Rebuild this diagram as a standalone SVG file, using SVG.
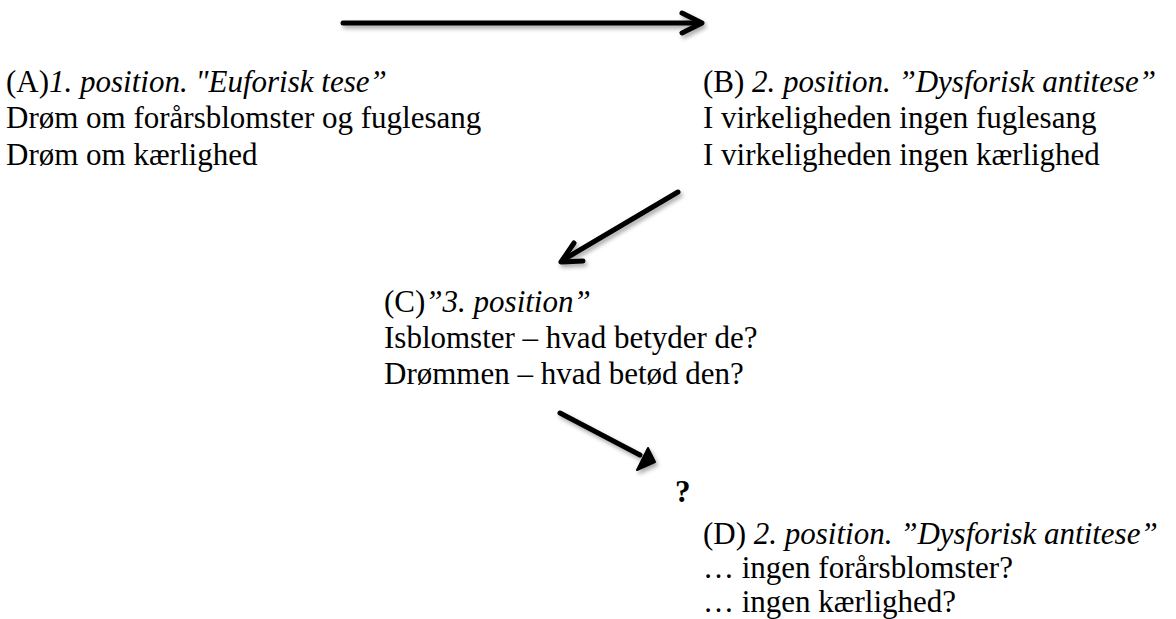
<svg xmlns="http://www.w3.org/2000/svg" width="1176" height="619" viewBox="0 0 1176 619">
<style>
text{font-family:"Liberation Serif","Times New Roman",serif;font-size:31px;fill:#000}
.i{font-style:italic}
.b{font-weight:bold}
.ln{stroke:#000;stroke-width:5;stroke-linecap:round;stroke-linejoin:round;fill:none}
</style>
<defs>
<filter id="sh" x="-20%" y="-50%" width="140%" height="200%">
<feDropShadow dx="2" dy="3" stdDeviation="2" flood-color="#000" flood-opacity="0.35"/>
</filter>
</defs>
<rect width="1176" height="619" fill="#fff"/>
<g id="connectors" filter="url(#sh)">
<g id="arrow-top">
<line class="ln" x1="343" y1="23" x2="701" y2="23"/>
<polyline class="ln" points="682,13 702,23 682,33"/>
</g>
<g id="arrow-b-c">
<line class="ln" x1="678" y1="192" x2="563" y2="260"/>
<polyline class="ln" points="574,243 561,262 583,261"/>
</g>
<g id="arrow-c-d">
<line class="ln" x1="560" y1="413" x2="640" y2="455"/>
<polygon points="655,462 637,470 648,448" fill="#000" stroke="#000" stroke-width="2" stroke-linejoin="round"/>
</g>
</g>
<g id="node-a">
<text x="6" y="92">(A)<tspan class="i">1. position. "Euforisk tese”</tspan></text>
<text x="6" y="128">Drøm om forårsblomster og fuglesang</text>
<text x="6" y="165">Drøm om kærlighed</text>
</g>
<g id="node-b">
<text x="703" y="92">(B) <tspan class="i">2. position. ”Dysforisk antitese”</tspan></text>
<text x="703" y="128">I virkeligheden ingen fuglesang</text>
<text x="703" y="165">I virkeligheden ingen kærlighed</text>
</g>
<g id="node-c">
<text x="384" y="312">(C)<tspan class="i">”3. position”</tspan></text>
<text x="384" y="348">Isblomster – hvad betyder de?</text>
<text x="384" y="384">Drømmen – hvad betød den?</text>
</g>
<g id="node-q">
<text class="b" x="675" y="502">?</text>
</g>
<g id="node-d">
<text x="703" y="544">(D) <tspan class="i">2. position. ”Dysforisk antitese”</tspan></text>
<text x="703" y="578">… ingen forårsblomster?</text>
<text x="703" y="612">… ingen kærlighed?</text>
</g>
</svg>
